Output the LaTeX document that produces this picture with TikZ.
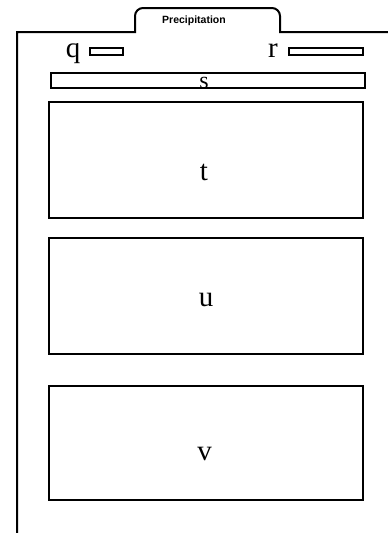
\documentclass[tikz,border=0pt]{standalone}
\usepackage{fontspec}
\newfontfamily\labelsans{Liberation Sans}
\setmainfont{Liberation Serif}
\begin{document}
\begin{tikzpicture}[x=1pt,y=-1pt,
  frameline/.style={line width=2pt},
  panel/.style={draw,line width=2pt,minimum width=314pt,inner sep=0pt},
  slot/.style={draw,line width=1.3pt},
  letter/.style={font=\fontsize{29}{31}\selectfont,inner sep=0pt,anchor=base}]
\useasboundingbox (0,0) rectangle (388,533);
% folder outline
\draw[frameline] (17,533) -- (17,32) -- (135,32) -- (135,16) [rounded corners=8pt] -- (135,8) -- (280,8) [sharp corners] -- (280,32) -- (388,32);
\node[font=\labelsans\bfseries\fontsize{10.5}{12}\selectfont] (title) at (194,21) {Precipitation};
% q, r
\node[letter] (q) at (73,57) {q};
\draw[slot] (90,48) rectangle (123,55);
\node[letter] (r) at (273,57) {r};
\draw[slot] (289,48) rectangle (363,55);
% s
\draw[slot] (51,73) rectangle (365,88);
\node[letter,font=\fontsize{24}{26}\selectfont] (s) at (204,88) {s};
% panels
\node[panel,minimum height=116pt] (t) at (206,160) {};
\node[letter] at (204,180) {t};
\node[panel,minimum height=116pt] (u) at (206,296) {};
\node[letter] at (206,306) {u};
\node[panel,minimum height=114pt] (v) at (206,443) {};
\node[letter] at (204.5,460) {v};
\end{tikzpicture}
\end{document}
